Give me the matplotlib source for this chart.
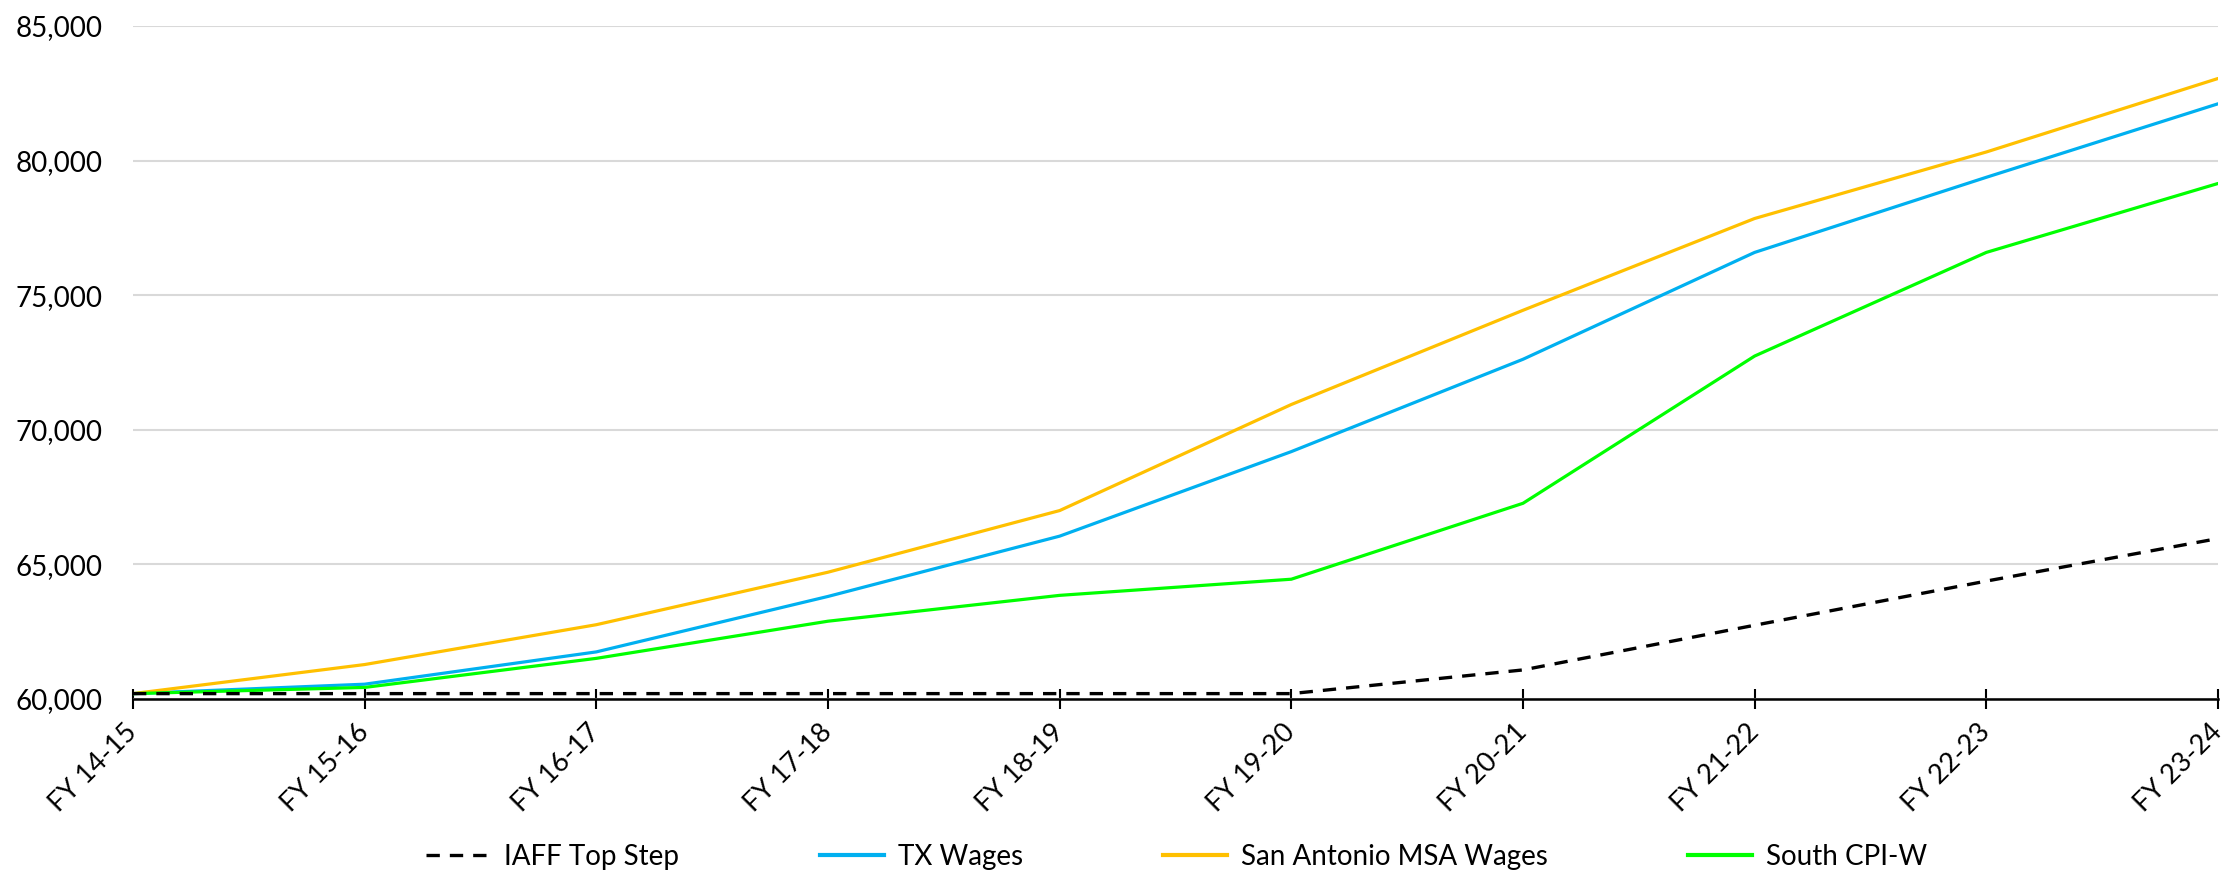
import matplotlib
matplotlib.use("Agg")
import matplotlib.pyplot as plt
from matplotlib.lines import Line2D
from matplotlib.ticker import FuncFormatter, MultipleLocator

plt.rcParams['font.family'] = ['Lato', 'DejaVu Sans']

# fiscal years and series values
years = ['FY 14-15', 'FY 15-16', 'FY 16-17', 'FY 17-18', 'FY 18-19',
         'FY 19-20', 'FY 20-21', 'FY 21-22', 'FY 22-23', 'FY 23-24']
iaff_top_step = [60200, 60200, 60200, 60200, 60200, 60200, 61080, 62740, 64380, 65960]
tx_wages = [60200, 60550, 61750, 63810, 66050, 69190, 72620, 76590, 79380, 82110]
sa_msa_wages = [60200, 61280, 62760, 64710, 67000, 70940, 74440, 77850, 80320, 83050]
south_cpi_w = [60200, 60430, 61510, 62890, 63850, 64450, 67270, 72740, 76590, 79150]

fig = plt.figure(figsize=(22.26, 8.8), dpi=100)
ax = fig.add_axes([133 / 2226, 1 - 699 / 880, (2218 - 133) / 2226, (699 - 26) / 880])

x = range(len(years))
ax.plot(x, tx_wages, color='#00B0F0', lw=2.3, solid_capstyle='round', zorder=3)
ax.plot(x, sa_msa_wages, color='#FFC000', lw=2.3, solid_capstyle='round', zorder=3)
ax.plot(x, south_cpi_w, color='#00FF00', lw=2.3, solid_capstyle='round', zorder=3)
ax.plot(x, iaff_top_step, color='black', lw=2.4, dashes=(4, 3), zorder=4)

ax.set_xlim(0, len(years) - 1)
ax.set_ylim(60000, 85000)
ax.yaxis.set_major_locator(MultipleLocator(5000))
ax.yaxis.set_major_formatter(FuncFormatter(lambda v, p: f'{int(v):,}'))
ax.grid(axis='y', color='#D9D9D9', lw=1.5, zorder=0)

for side in ['top', 'right', 'left']:
    ax.spines[side].set_visible(False)
ax.spines['bottom'].set_linewidth(1.8)
ax.spines['bottom'].set_zorder(2)

ax.set_xticks(list(x))
ax.set_xticklabels(years, rotation=45, ha='right', va='center', rotation_mode='anchor')
ax.tick_params(axis='x', direction='inout', length=14, width=1.5, labelsize=19.5, pad=14)
ax.tick_params(axis='y', length=0, labelsize=20, pad=22)

# legend entries spread along the bottom
entries = [
    (Line2D([], [], color='black', lw=2.4, dashes=(4, 3)), 'IAFF Top Step', 426),
    (Line2D([], [], color='#00B0F0', lw=3), 'TX Wages', 820),
    (Line2D([], [], color='#FFC000', lw=3), 'San Antonio MSA Wages', 1163),
    (Line2D([], [], color='#00FF00', lw=3), 'South CPI-W', 1688),
]
for handle, label, xpos in entries:
    fig.legend([handle], [label], loc='center left', bbox_to_anchor=(xpos / 2226, 1 - 857 / 880),
               frameon=False, fontsize=20, handlelength=2.3, handletextpad=0.5,
               borderpad=0, borderaxespad=0)

fig.savefig('out.png', dpi=100)
